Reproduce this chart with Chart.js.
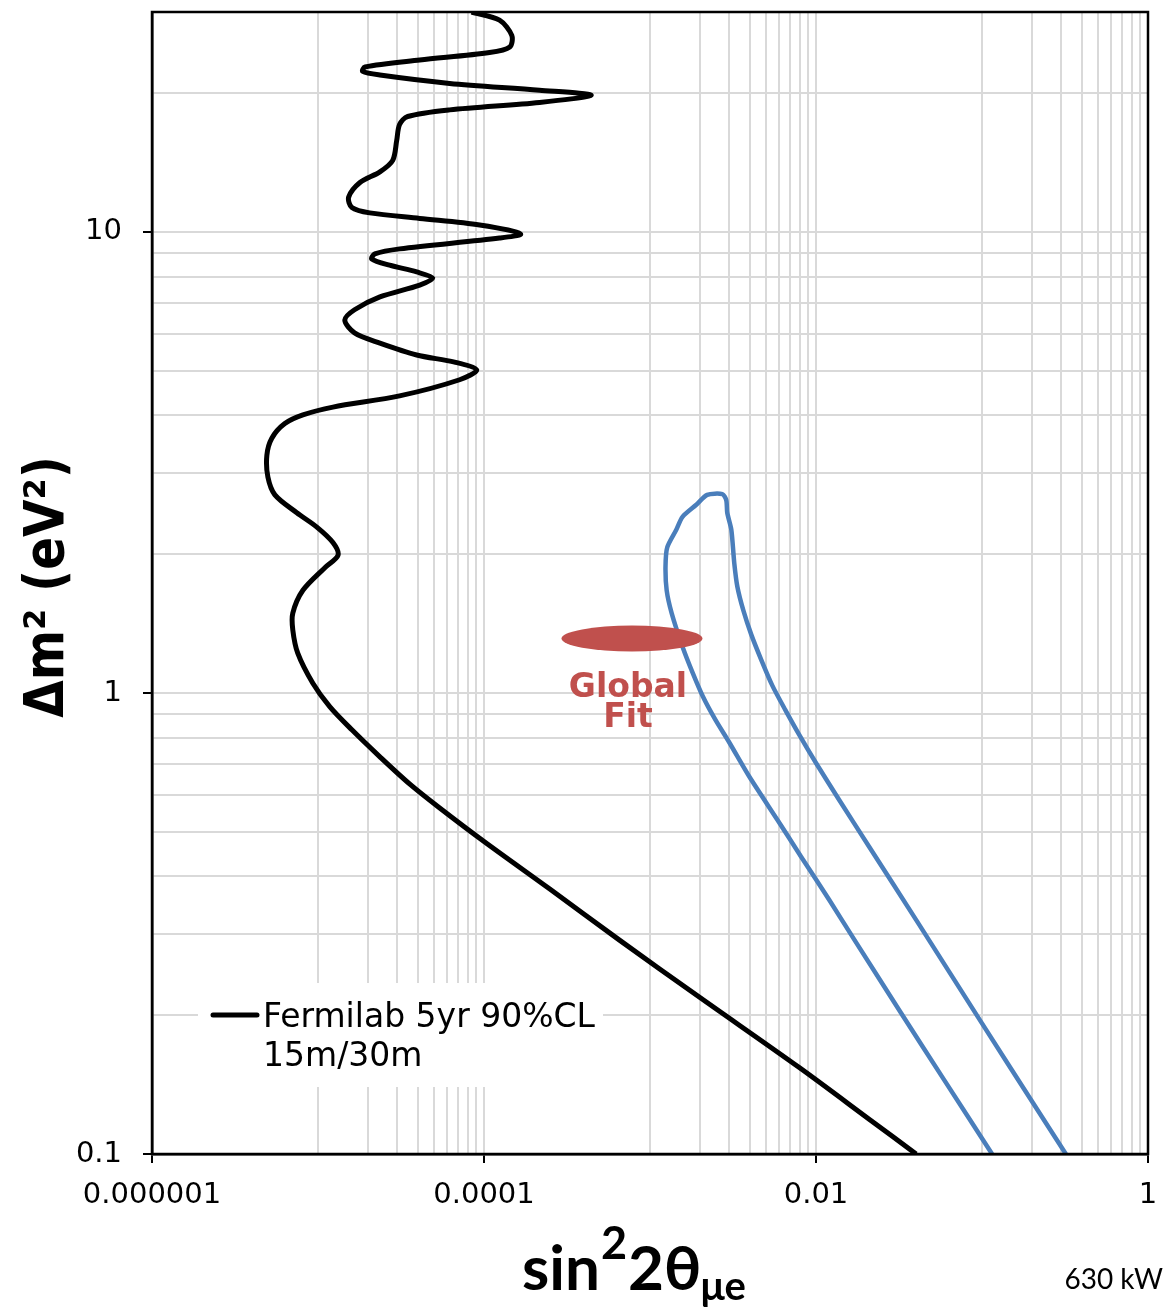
<!DOCTYPE html>
<html>
<head>
<meta charset="utf-8">
<script src="https://cdn.jsdelivr.net/npm/chart.js@4.4.1/dist/chart.umd.min.js"></script>
<style>
  html, body { margin:0; padding:0; background:#fff; }
  #wrap { width:1164px; height:1314px; }
</style>
</head>
<body>
<div id="wrap"><canvas id="grafico" width="1164" height="1314"></canvas></div>
<script>
// DATA
const fermiX = [8.41e-5, 1.24e-4, 1.47e-4, 1.43e-4, 1.08e-4, 4.10e-5, 1.92e-5, 1.86e-5, 2.36e-5, 6.21e-5,
  2.16e-4, 4.43e-4, 2.16e-4, 6.21e-5, 3.47e-5, 3.10e-5, 2.98e-5, 2.82e-5, 2.36e-5, 1.79e-5,
  1.53e-5, 1.60e-5, 2.05e-5, 4.10e-5, 9.42e-5, 1.66e-4, 1.24e-4, 3.10e-5, 2.20e-5, 2.11e-5,
  2.70e-5, 3.93e-5, 4.91e-5, 4.10e-5, 2.36e-5, 1.66e-5, 1.45e-5, 1.66e-5, 2.36e-5, 3.93e-5,
  6.65e-5, 9.04e-5, 7.13e-5, 3.10e-5, 1.23e-5, 8.11e-6, 6.31e-6, 5.27e-6, 4.92e-6, 4.99e-6,
  5.50e-6, 7.45e-6, 9.84e-6, 1.23e-5, 1.32e-5, 1.10e-5, 8.11e-6, 7.05e-6, 7.05e-6, 7.55e-6,
  9.31e-6, 1.18e-5, 1.60e-5, 2.36e-5, 3.56e-5, 5.41e-5, 1.01e-4, 2.48e-4, 6.55e-4, 1.98e-3,
  7.93e-3, 0.0209, 0.0401];
const fermiY = [30.0, 28.8, 26.7, 25.2, 24.5, 23.6, 22.8, 22.3, 21.9, 21.0,
  20.3, 19.8, 19.1, 18.4, 17.8, 17.1, 15.8, 14.3, 13.5, 12.8,
  11.9, 11.3, 11.0, 10.7, 10.35, 9.90, 9.70, 9.19, 8.96, 8.74,
  8.47, 8.19, 7.94, 7.67, 7.23, 6.78, 6.44, 6.04, 5.74, 5.41,
  5.22, 5.02, 4.78, 4.41, 4.17, 4.01, 3.84, 3.57, 3.28, 2.94,
  2.69, 2.46, 2.29, 2.12, 1.99, 1.87, 1.67, 1.49, 1.37, 1.22,
  1.05, 0.933, 0.832, 0.727, 0.635, 0.563, 0.475, 0.376, 0.291, 0.219,
  0.154, 0.119, 0.1];

const contourX = [0.115, 0.0590, 0.0326, 0.0175, 0.0120, 8.15e-3, 5.85e-3, 3.97e-3, 3.01e-3, 2.48e-3,
  2.09e-3, 1.80e-3, 1.57e-3, 1.35e-3, 1.26e-3, 1.24e-3, 1.27e-3, 1.44e-3, 1.57e-3, 1.90e-3,
  2.21e-3, 2.73e-3, 2.88e-3, 2.92e-3, 3.09e-3, 3.22e-3, 3.36e-3, 3.65e-3, 4.07e-3, 4.68e-3,
  5.44e-3, 6.53e-3, 7.93e-3, 0.0100, 0.0138, 0.0209, 0.0401, 0.100, 0.203, 0.320];
const contourY = [0.1, 0.145, 0.202, 0.287, 0.356, 0.441, 0.531, 0.658, 0.780, 0.874,
  0.980, 1.11, 1.26, 1.49, 1.67, 1.88, 2.07, 2.26, 2.41, 2.56,
  2.69, 2.70, 2.62, 2.46, 2.26, 1.91, 1.70, 1.51, 1.34, 1.18,
  1.04, 0.919, 0.811, 0.705, 0.586, 0.464, 0.322, 0.192, 0.129, 0.1];

// global fit ellipse extent (x range, y range)
const fitX = [2.93e-4, 2.07e-3];
const fitY = [1.23, 1.40];

const xMajor = [1e-6, 1e-4, 1e-2, 1];
const xTickLabels = ["0.000001", "0.0001", "0.01", "1"];
const yMajor = [0.1, 1, 10];
const yTickLabels = ["0.1", "1", "10"];
const yMax = 30;
const legendLines = ["Fermilab 5yr 90%CL", "15m/30m"];

// TICKS (majors + 1..9 steps between them)
function tickValues(majors, max) {
  const vals = [majors[0]];
  for (let i = 0; i < majors.length - 1; i++) {
    const a = majors[i], b = majors[i + 1];
    for (let k = 1; k <= 9; k++) {
      const v = k * b / 10;
      if (Math.abs(v - a) > 1e-12 * b) vals.push(v);
    }
    vals.push(b);
  }
  const last = majors[majors.length - 1];
  for (let k = 2; k * last <= max + 1e-9; k++) vals.push(k * last);
  return vals;
}
const xTicks = tickValues(xMajor, 1);
const yTicks = tickValues(yMajor, yMax);

const pts = (xs, ys) => xs.map((x, i) => ({ x, y: ys[i] }));

// PLUGIN: legend box, frame, ellipse, titles
const extras = {
  id: "extras",
  beforeDatasetsDraw(chart) {
    const { ctx, chartArea: a } = chart;
    ctx.save();
    ctx.fillStyle = "#fff";
    ctx.fillRect(a.left + 46, a.bottom - 171, 405, 104);
    ctx.strokeStyle = "#000";
    ctx.lineWidth = 5;
    ctx.lineCap = "round";
    ctx.beginPath();
    ctx.moveTo(a.left + 61, a.bottom - 139);
    ctx.lineTo(a.left + 105, a.bottom - 139);
    ctx.stroke();
    ctx.fillStyle = "#000";
    ctx.font = "33px 'DejaVu Sans'";
    ctx.textAlign = "left";
    ctx.textBaseline = "alphabetic";
    ctx.fillText(legendLines[0], a.left + 111, a.bottom - 127);
    ctx.fillText(legendLines[1], a.left + 111, a.bottom - 88);
    ctx.restore();
  },
  afterDatasetsDraw(chart) {
    const { ctx, chartArea: a, scales } = chart;
    const x0 = scales.x.getPixelForValue(fitX[0]), x1 = scales.x.getPixelForValue(fitX[1]);
    const y0 = scales.y.getPixelForValue(fitY[0]), y1 = scales.y.getPixelForValue(fitY[1]);
    const cx = (x0 + x1) / 2, cy = (y0 + y1) / 2;
    ctx.save();
    ctx.fillStyle = "#c0504d";
    ctx.beginPath();
    ctx.ellipse(cx, cy, (x1 - x0) / 2, Math.abs(y0 - y1) / 2, 0, 0, Math.PI * 2);
    ctx.fill();
    ctx.font = "bold 33px 'DejaVu Sans'";
    ctx.textAlign = "center";
    ctx.fillText("Global", cx - 4, cy + 58);
    ctx.fillText("Fit", cx - 4, cy + 88);

    // frame
    ctx.strokeStyle = "#000";
    ctx.lineWidth = 2.5;
    ctx.strokeRect(a.left, a.top, a.right - a.left, a.bottom - a.top);
    ctx.restore();
  },
  afterDraw(chart) {
    const { ctx } = chart;
    ctx.save();
    ctx.fillStyle = "#000";
    // y title
    ctx.translate(49, 587);
    ctx.rotate(-Math.PI / 2);
    ctx.scale(0.88, 1);
    ctx.font = "bold 55px 'DejaVu Sans'";
    ctx.textAlign = "center";
    ctx.textBaseline = "middle";
    ctx.fillText("Δm² (eV²)", 0, 0);
    ctx.restore();

    // x title: sin²2θ with subscript μe
    ctx.save();
    ctx.fillStyle = "#000";
    ctx.textAlign = "left";
    ctx.textBaseline = "alphabetic";
    let x = 522;
    const big = "bold 62px Lato, 'Noto Sans'";
    const sup = "bold 45px Lato, 'Noto Sans'", sub = "bold 40px Lato, 'Noto Sans'";
    ctx.font = big; ctx.fillText("sin", x, 1290); x += ctx.measureText("sin").width + 1;
    ctx.font = sup; ctx.fillText("2", x, 1259); x += ctx.measureText("2").width + 1;
    ctx.font = big; ctx.fillText("2θ", x, 1290); x += ctx.measureText("2θ").width - 1;
    ctx.font = sub; ctx.fillText("μe", x, 1300);

    ctx.font = "28px Lato, 'Noto Sans'";
    ctx.textAlign = "right";
    ctx.fillText("630 kW", 1163, 1289);
    ctx.restore();
  }
};

// CHART
Chart.defaults.font.family = "'DejaVu Sans'";
Chart.defaults.color = "#000";

new Chart(document.getElementById("grafico"), {
  type: "scatter",
  data: {
    datasets: [
      { label: legendLines.join(" "), data: pts(fermiX, fermiY), showLine: true, borderColor: "#000",
        borderWidth: 5, pointRadius: 0, tension: 0.3, fill: false },
      { label: "contour", data: pts(contourX, contourY), showLine: true, borderColor: "#4a7ebb",
        borderWidth: 4.5, pointRadius: 0, tension: 0.25, fill: false }
    ]
  },
  options: {
    responsive: false,
    animation: false,
    layout: { padding: { top: 12, right: 16, left: 0, bottom: 0 } },
    plugins: { legend: { display: false }, tooltip: { enabled: false } },
    scales: {
      x: {
        type: "logarithmic", min: 1e-6, max: 1,
        afterBuildTicks: s => { s.ticks = xTicks.map(v => ({ value: v, major: xMajor.includes(v) })); },
        afterFit: s => { s.height = 160; s.paddingLeft = 0; s.paddingRight = 0; },
        ticks: {
          autoSkip: false, maxRotation: 0, minRotation: 0, padding: 15,
          font: { size: 29 }, color: "#000",
          callback: v => { const i = xMajor.indexOf(v); return i >= 0 ? xTickLabels[i] : ""; }
        },
        grid: {
          color: "#d9d9d9", lineWidth: 2, tickLength: 9, tickWidth: 2,
          tickColor: c => (c.tick && c.tick.major) ? "#000" : "rgba(0,0,0,0)"
        },
        border: { display: true, color: "#000", width: 2.5 }
      },
      y: {
        type: "logarithmic", min: 0.1, max: yMax,
        afterBuildTicks: s => { s.ticks = yTicks.map(v => ({ value: v, major: yMajor.includes(v) })); },
        afterFit: s => { s.width = 152; s.paddingTop = 0; s.paddingBottom = 0; },
        ticks: {
          autoSkip: false, padding: 21,
          font: { size: 29 }, color: "#000",
          callback: v => { const i = yMajor.indexOf(v); return i >= 0 ? yTickLabels[i] : ""; }
        },
        grid: {
          color: "#d9d9d9", lineWidth: 2, tickLength: 9, tickWidth: 2,
          tickColor: c => (c.tick && c.tick.major) ? "#000" : "rgba(0,0,0,0)"
        },
        border: { display: true, color: "#000", width: 2.5 }
      }
    }
  },
  plugins: [extras]
});
</script>
</body>
</html>
